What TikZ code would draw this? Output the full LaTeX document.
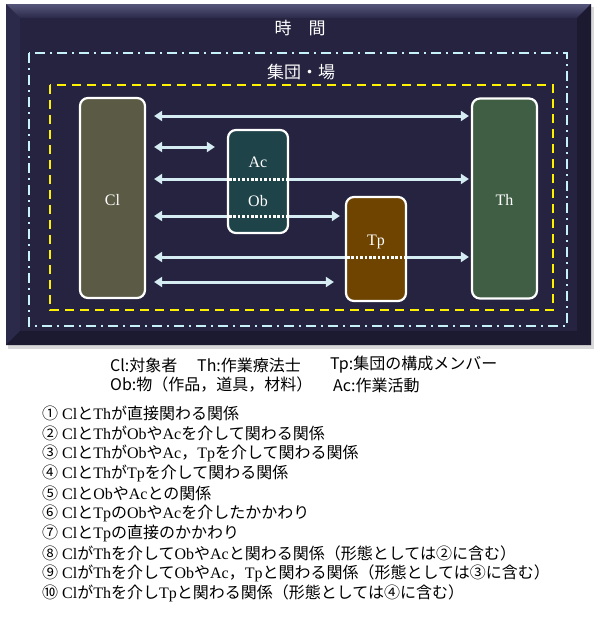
\documentclass[tikz,border=0pt]{standalone}
\usepackage{fontspec}
\setmainfont{Liberation Serif}
\newfontfamily\jp{Noto Sans CJK JP}
\usetikzlibrary{arrows.meta}

\definecolor{panelc}{HTML}{25233F}
\definecolor{bevtop}{HTML}{55557A}
\definecolor{bevside}{HTML}{2C2A4A}
\definecolor{bevlow}{HTML}{1B1A31}
\definecolor{arrowc}{HTML}{D6ECF3}
\definecolor{framec}{HTML}{C8F2FA}
\definecolor{clc}{HTML}{5B5A45}
\definecolor{thc}{HTML}{3F5E44}
\definecolor{acc}{HTML}{1E4349}
\definecolor{tpc}{HTML}{6E4400}

\newcommand\J[1]{{\jp #1}}

\pgfdeclarelayer{back}
\pgfdeclarelayer{mid}
\pgfsetlayers{back,mid,main}

\begin{document}
\begin{tikzpicture}[x=1pt, y=-1pt, line join=round,
  rel/.style={draw=arrowc, line width=3pt,
    {Triangle[width=10pt,length=8pt]}-{Triangle[width=10pt,length=8pt]}},
  blk/.style={draw=white, line width=2.2pt, rounded corners=8pt, inner sep=0pt},
  lbl/.style={text=white, font=\fontsize{16}{19}\selectfont},
  via/.style={draw=white, line width=3pt, dash pattern=on 2.6pt off 1.8pt},
  item/.style={anchor=west, inner sep=0pt, font=\fontsize{16}{19}\selectfont},
  key/.style={anchor=west, inner sep=0pt, font=\jp\fontsize{16}{19}\selectfont}]
  \useasboundingbox (0,0) rectangle (596,619);

  % panel with bevel
  \begin{pgfonlayer}{back}
    \fill[black!15] (8,7) rectangle (594,349);
    \fill[panelc] (6,4) rectangle (591,345);
    \shade[top color=bevtop, bottom color=bevside] (6,4) -- (591,4) -- (577,18) -- (20,18) -- cycle;
    \fill[bevside] (6,4) -- (20,18) -- (20,331) -- (6,345) -- cycle;
    \fill[bevlow] (591,4) -- (577,18) -- (577,331) -- (591,345) -- cycle;
    \fill[bevlow] (6,345) -- (20,331) -- (577,331) -- (591,345) -- cycle;
    % frames
    \draw[framec, line width=2.2pt, dash pattern=on 10pt off 5pt on 2pt off 5pt] (29,53) rectangle (567,326);
    \draw[yellow, line width=2.4pt, dash pattern=on 9pt off 6pt] (50,85) rectangle (553,310);
  \end{pgfonlayer}

  \node[text=white, font=\jp\fontsize{17}{19}\selectfont] (jikan) at (300,28) {時　間};
  \node[text=white, font=\jp\fontsize{17}{19}\selectfont] (ba) at (301,72) {集団・場};

  % boxes
  \node[blk, fill=clc, minimum width=65pt, minimum height=200pt] (cl) at (112.5,198) {};
  \node[blk, fill=thc, minimum width=65pt, minimum height=200pt] (th) at (504.5,198.5) {};
  \node[blk, fill=acc, minimum width=60pt, minimum height=103pt] (acob) at (258,181.5) {};
  \node[blk, fill=tpc, minimum width=60pt, minimum height=104pt] (tp) at (376,249) {};

  % rows of the connectors
  \foreach \n/\y in {1/116, 2/147, 3/179, 4/216, 5/257, 6/282}
    \coordinate (r\n) at (0,\y);

  \begin{pgfonlayer}{mid}
    \draw[rel, shorten <=8pt, shorten >=2pt] (cl.east |- r1) -- (th.west |- r1);
    \draw[rel, shorten <=8pt, shorten >=12pt] (cl.east |- r2) -- (acob.west |- r2);
    \draw[rel, shorten <=8pt, shorten >=2pt] (cl.east |- r3) -- (th.west |- r3);
    \draw[rel, shorten <=8pt, shorten >=5pt] (cl.east |- r4) -- (tp.west |- r4);
    \draw[rel, shorten <=8pt, shorten >=2pt] (cl.east |- r5) -- (th.west |- r5);
    \draw[rel, shorten <=8pt, shorten >=11pt] (cl.east |- r6) -- (tp.west |- r6);
  \end{pgfonlayer}

  % dotted crossings inside the boxes
  \draw[via, shorten <=2pt, shorten >=2pt] (acob.west |- r3) -- (acob.east |- r3);
  \draw[via, shorten <=2pt, shorten >=2pt] (acob.west |- r4) -- (acob.east |- r4);
  \draw[via, shorten <=2pt, shorten >=2pt] (tp.west |- r5) -- (tp.east |- r5);

  \node[lbl] (cllbl) at (cl |- 0,200) {Cl};
  \node[lbl] (thlbl) at (th |- 0,200) {Th};
  \node[lbl] (aclbl) at (acob |- 0,162) {Ac};
  \node[lbl] (oblbl) at (acob |- 0,201) {Ob};
  \node[lbl] (tplbl) at (tp |- 0,242) {Tp};

  % legend
  \node[key] (kcl) at (110,365) {Cl:対象者};
  \node[key] (kth) at (197,365) {Th:作業療法士};
  \node[key] (ktp) at (330,365) {Tp:集団の構成メンバー};
  \node[key] (kob) at (110,385) {Ob:物（作品，道具，材料）};
  \node[key] (kac) at (333,385) {Ac:作業活動};

  % list of relations
  \node[item] (it1) at (42,413) {\J{①} Cl\J{と}Th\J{が直接関わる関係}};
  \node[item] (it2) at (42,433) {\J{②} Cl\J{と}Th\J{が}Ob\J{や}Ac\J{を介して関わる関係}};
  \node[item] (it3) at (42,453) {\J{③} Cl\J{と}Th\J{が}Ob\J{や}Ac\J{，}Tp\J{を介して関わる関係}};
  \node[item] (it4) at (42,473) {\J{④} Cl\J{と}Th\J{が}Tp\J{を介して関わる関係}};
  \node[item] (it5) at (42,493) {\J{⑤} Cl\J{と}Ob\J{や}Ac\J{との関係}};
  \node[item] (it6) at (42,513) {\J{⑥} Cl\J{と}Tp\J{の}Ob\J{や}Ac\J{を介したかかわり}};
  \node[item] (it7) at (42,533) {\J{⑦} Cl\J{と}Tp\J{の直接のかかわり}};
  \node[item] (it8) at (42,553) {\J{⑧} Cl\J{が}Th\J{を介して}Ob\J{や}Ac\J{と関わる関係（形態としては②に含む）}};
  \node[item] (it9) at (42,573) {\J{⑨} Cl\J{が}Th\J{を介して}Ob\J{や}Ac\J{，}Tp\J{と関わる関係（形態としては③に含む）}};
  \node[item] (it10) at (42,593) {\J{⑩} Cl\J{が}Th\J{を介し}Tp\J{と関わる関係（形態としては④に含む）}};
\end{tikzpicture}
\end{document}
